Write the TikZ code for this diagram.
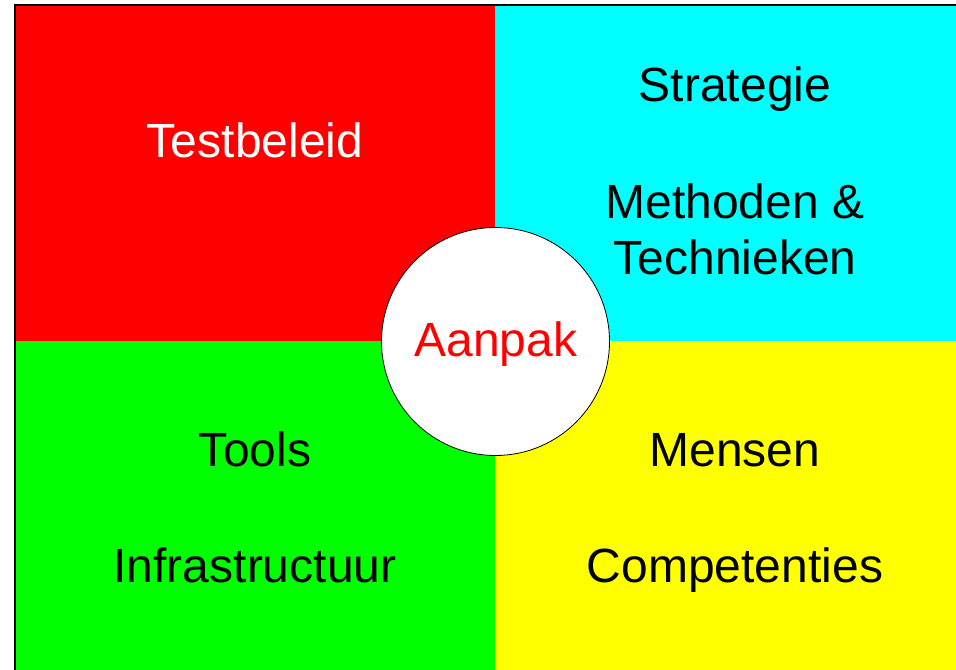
\documentclass[tikz,border=0pt]{standalone}
\usepackage{fontspec}
\setmainfont{Liberation Sans}
\definecolor{vlakrood}{RGB}{255,0,0}
\definecolor{vlakcyaan}{RGB}{0,255,255}
\definecolor{vlakgroen}{RGB}{0,255,0}
\definecolor{vlakgeel}{RGB}{255,255,0}
\begin{document}
\begin{tikzpicture}[x=0.75pt,y=-0.75pt,
	label/.style={font=\fontsize{36pt}{42pt}\selectfont,anchor=base,inner sep=0pt,align=center}]
	\useasboundingbox (0,0) rectangle (956,670);
	\clip (0,0) rectangle (956,670);
	% vier vlakken
	\fill[vlakrood] (15,5) rectangle (495,341);
	\fill[vlakcyaan] (495,5) rectangle (990,341);
	\fill[vlakgroen] (15,341) rectangle (495,690);
	\fill[vlakgeel] (495,341) rectangle (990,690);
	\draw[line width=0.9pt] (15,690) -- (15,5) -- (990,5);
	
	\node (testbeleid) at (255,158) [label,white] {Testbeleid};
	\node (strategie) at (735,102) [label] {Strategie};
	\node (methoden) at (735,274) [label] {Methoden \&\\Technieken};
	\node (tools) at (255,466) [label] {Tools};
	\node (infra) at (255,582) [label] {Infrastructuur};
	\node (mensen) at (735,466) [label] {Mensen};
	\node (competenties) at (735,582) [label] {Competenties};
	
	\node (aanpak) at (495.5,341.5) [circle,draw,line width=0.6pt,fill=white,minimum size=171pt,inner sep=0pt] {};
	\node (aanpaktekst) at (496,356) [label,vlakrood] {Aanpak};
\end{tikzpicture}
\end{document}
